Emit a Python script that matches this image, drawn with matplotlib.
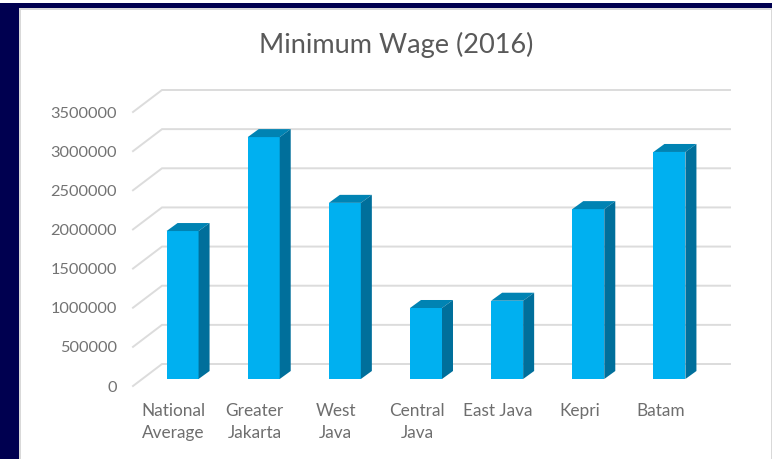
import matplotlib
matplotlib.use('Agg')
import matplotlib.pyplot as plt
from matplotlib.patches import Polygon, Rectangle

plt.rcParams['font.family'] = ['Lato', 'DejaVu Sans']

# ----- data -----
categories = ['National\nAverage', 'Greater\nJakarta', 'West\nJava', 'Central\nJava', 'East Java', 'Kepri', 'Batam']
wages = [1890000, 3090000, 2250000, 907000, 1000000, 2170000, 2900000]
y_ticks = [0, 500000, 1000000, 1500000, 2000000, 2500000, 3000000, 3500000]

W, H = 775, 459
fig = plt.figure(figsize=(W / 100, H / 100), dpi=100, facecolor='white')

# axes is the front plane of the fake 3D box
ax_w, ax_h = 568, 274
ax = fig.add_axes([133 / W, (H - 386) / H, ax_w / W, ax_h / H])
ax.set_xlim(-0.5, 6.5)
ax.set_ylim(0, 3500000)
ax.patch.set_alpha(0)
for s in ax.spines.values():
    s.set_visible(False)

# pixel -> data sizes
px_x = 7 / ax_w
px_y = 3500000 / ax_h


def rect(x0, y0, x1, y1, color, z=0):
    # rectangle given in pixels from the top left of the picture
    fig.add_artist(Rectangle((x0 / W, 1 - y1 / H), (x1 - x0) / W, (y1 - y0) / H,
                             transform=fig.transFigure, facecolor=color, edgecolor='none', zorder=z))


# slide background frame
rect(0, 3, 772, 8, '#000050', -5)
rect(0, 3, 19, H, '#000050', -5)
rect(19, 8, 772, 9.5, '#d9d9d9', -5)
rect(19, 8, 20.5, H, '#d9d9d9', -5)
rect(770.5, 8, 772, H, '#d9d9d9', -5)

# gridlines: side wall + back wall
wall_dx = 29 * px_x
wall_dy = 22 * px_y
for t in y_ticks:
    ax.plot([-0.5, -0.5 + wall_dx, 6.5 + wall_dx], [t, t + wall_dy, t + wall_dy],
            color='#dcdcdc', lw=1.4, clip_on=False, zorder=1, solid_joinstyle='miter')

# bars
bar_w = 32 * px_x
shift_x = 9 * px_x
shift_y = 7 * px_y
depth_x = 11 * px_x
depth_y = 8 * px_y
xs = list(range(len(categories)))
ax.bar([x + shift_x for x in xs], wages, bar_w, bottom=shift_y, color='#00b0f0', zorder=3, clip_on=False)
for x, v in zip(xs, wages):
    x0 = x + shift_x - bar_w / 2
    x1 = x + shift_x + bar_w / 2
    y0 = shift_y
    y1 = shift_y + v
    ax.add_patch(Polygon([(x0, y1), (x1, y1), (x1 + depth_x, y1 + depth_y), (x0 + depth_x, y1 + depth_y)],
                         facecolor='#0083b3', edgecolor='none', zorder=3, clip_on=False))
    ax.add_patch(Polygon([(x1, y0), (x1 + depth_x, y0 + depth_y), (x1 + depth_x, y1 + depth_y), (x1, y1)],
                         facecolor='#006f9b', edgecolor='none', zorder=3, clip_on=False))

ax.set_yticks(y_ticks)
ax.set_yticklabels([str(t) for t in y_ticks])
ax.set_xticks(xs)
ax.set_xticklabels(categories, linespacing=1.5)
ax.tick_params(axis='y', length=0, pad=11.5, labelsize=11.8, labelcolor='#737373')
ax.tick_params(axis='x', length=0, pad=12, labelsize=12.4, labelcolor='#6e6e6e')

fig.text(396 / W, 1 - 44.5 / H, 'Minimum Wage (2016)', ha='center', va='center', fontsize=19.5, color='#595959')

fig.savefig('out.png', dpi=100)
